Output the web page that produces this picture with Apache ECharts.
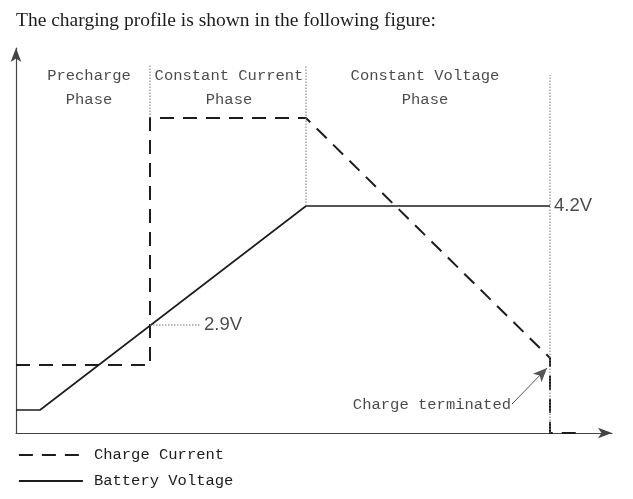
<!DOCTYPE html>
<html>
<head>
  <meta charset="utf-8" />
  <title>Charging profile</title>
  <script src="https://cdn.jsdelivr.net/npm/echarts@6/dist/echarts.min.js"></script>
</head>
<style>
  body { margin: 0; padding: 0; overflow: hidden; background: #fff; }
</style>
<body>
  <div id="main" style="width: 633px;height: 499px;"></div>
  <script type="text/javascript">
    // profile in arbitrary units (time on x, level on y)
    const batteryVoltage = [[0, 23], [24, 23], [290, 227], [534, 227]];
    const chargeCurrent = [[0, 68], [134, 68], [134, 315], [290, 315], [534, 75], [534, 0], [565, 0]];
    // dotted guide lines
    const guides = [
      [[134, 315], [134, 368]],
      [[290, 227], [290, 368]],
      [[534, 0], [534, 358]],
      [[134, 108], [184, 108]]
    ];
    const phaseLabels = [
      ['Precharge\nPhase', 73, 345],
      ['Constant Current\nPhase', 213, 345],
      ['Constant Voltage\nPhase', 409, 345]
    ];
    const voltLabels = [['2.9V', 186, 108], ['4.2V', 536, 227]];
    const termLabel = ['Charge terminated', 495, 28];
    const termArrow = [[496, 29], [531, 65]];

    const mono = 'Liberation Mono';
    const ink = '#1c1c1c';

    const myChart = echarts.init(document.getElementById('main'));

    const series = [
      {
        name: 'Charge Current',
        type: 'line',
        data: chargeCurrent,
        symbol: 'none',
        lineStyle: { color: ink, width: 2, type: [14, 9] },
        itemStyle: { color: ink },
        z: 3
      },
      {
        name: 'Battery Voltage',
        type: 'line',
        data: batteryVoltage,
        symbol: 'none',
        lineStyle: { color: ink, width: 1.6 },
        itemStyle: { color: ink },
        z: 3
      }
    ];

    guides.forEach(g => {
      series.push({
        type: 'line',
        data: g,
        symbol: 'none',
        silent: true,
        lineStyle: { color: '#777', width: 1, type: [1.5, 1.5] }
      });
    });

    series.push({
      type: 'scatter',
      symbolSize: 0,
      silent: true,
      data: phaseLabels.map(p => ({ value: [p[1], p[2]], name: p[0] })),
      label: {
        show: true,
        position: 'inside',
        formatter: p => p.name,
        fontFamily: mono,
        fontSize: 15.5,
        lineHeight: 24,
        color: ink,
        align: 'center'
      }
    });

    series.push({
      type: 'scatter',
      symbolSize: 0,
      silent: true,
      data: voltLabels.map(p => ({ value: [p[1], p[2]], name: p[0] })),
      label: {
        show: true,
        position: 'right',
        distance: 2,
        formatter: p => p.name,
        fontFamily: 'Liberation Sans',
        fontSize: 18.5,
        color: ink
      }
    });

    series.push({
      type: 'scatter',
      symbolSize: 0,
      silent: true,
      data: [{ value: [termLabel[1], termLabel[2]], name: termLabel[0] }],
      label: {
        show: true,
        position: 'left',
        distance: 0,
        formatter: p => p.name,
        fontFamily: mono,
        fontSize: 15.5,
        color: ink
      },
      markLine: {
        silent: true,
        symbol: ['none', 'arrow'],
        symbolSize: [9, 14],
        label: { show: false },
        lineStyle: { color: '#555', width: 1, type: 'solid' },
        data: [[{ coord: termArrow[0] }, { coord: termArrow[1] }]]
      }
    });

    const axisCommon = {
      type: 'value',
      axisLine: {
        show: true,
        symbol: ['none', 'arrow'],
        symbolSize: [8, 14],
        lineStyle: { color: '#444', width: 1.2 }
      },
      axisTick: { show: false },
      axisLabel: { show: false },
      splitLine: { show: false }
    };

    const option = {
      animation: false,
      backgroundColor: '#fff',
      title: {
        text: 'The charging profile is shown in the following figure:',
        left: 11,
        top: 6,
        textStyle: { fontFamily: 'Liberation Serif', fontSize: 19.5, fontWeight: 'normal', color: ink }
      },
      grid: { left: 16, top: 48, right: 21, bottom: 66 },
      xAxis: Object.assign({}, axisCommon, { min: 0, max: 596 }),
      yAxis: Object.assign({}, axisCommon, { min: 0, max: 385 }),
      legend: {
        data: ['Charge Current', 'Battery Voltage'],
        orient: 'vertical',
        left: 18,
        top: 447,
        padding: 0,
        itemWidth: 64,
        itemHeight: 14,
        itemGap: 10,
        selectedMode: false,
        itemStyle: { opacity: 0 },
        lineStyle: { width: 1.8 },
        textStyle: { fontFamily: mono, fontSize: 15.5, color: ink, padding: [0, 0, 0, 6] }
      },
      series: series
    };
    myChart.setOption(option);
  </script>
</body>
</html>
